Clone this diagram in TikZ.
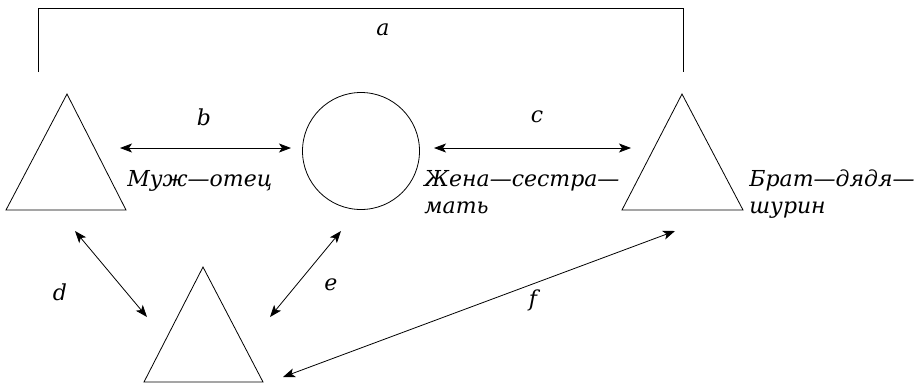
\documentclass[tikz,border=0pt]{standalone}
\usepackage{fontspec}
\setmainfont{DejaVu Serif}
\usetikzlibrary{arrows.meta}
\begin{document}
\begin{tikzpicture}[x=1pt,y=-1pt,line width=0.8pt,
  lab/.style={font=\fontsize{22}{27}\selectfont\itshape, inner sep=0pt},
  rel/.style={{Stealth[length=12pt,width=9pt,inset=3pt]}-{Stealth[length=12pt,width=9pt,inset=3pt]}, line width=0.8pt},
  shp/.style={draw, line width=0.8pt}]
\useasboundingbox (0,0) rectangle (916,386);
% bracket
\coordinate (aL) at (38,72);
\coordinate (aR) at (683,72);
\draw[shp] (aL) -- (38,8) -- (683,8) -- (aR);
\node[lab] (la) at (383,30) {a};
% triangles
\coordinate (t1a) at (67,94); \coordinate (t1l) at (6,210); \coordinate (t1r) at (126,210);
\draw[shp] (t1a) -- (t1r) -- (t1l) -- cycle;
\coordinate (t2a) at (682,94); \coordinate (t2l) at (622,210); \coordinate (t2r) at (743,210);
\draw[shp] (t2a) -- (t2r) -- (t2l) -- cycle;
\coordinate (t3a) at (203,267); \coordinate (t3l) at (144,382); \coordinate (t3r) at (263,382);
\draw[shp] (t3a) -- (t3r) -- (t3l) -- cycle;
% circle
\node[shp, circle, minimum size=117pt, inner sep=0pt] (circ) at (361,151) {};
% arrows
\coordinate (b1) at (120,148); \coordinate (b2) at (291,148);
\draw[rel] (b1) -- (b2);
\node[lab] (lb) at (204,117) {b};
\coordinate (c1) at (434,148); \coordinate (c2) at (631,148);
\draw[rel] (c1) -- (c2);
\node[lab] (lc) at (537,117) {c};
\coordinate (d1) at (75,231); \coordinate (d2) at (147,317);
\draw[rel] (d1) -- (d2);
\node[lab] (ld) at (60,292) {d};
\coordinate (e1) at (341,231); \coordinate (e2) at (270,317);
\draw[rel] (e1) -- (e2);
\node[lab] (le) at (331,285) {e};
\coordinate (f1) at (675,231); \coordinate (f2) at (283,377);
\draw[rel] (f1) -- (f2);
\node[lab] (lf) at (533,300) {f};
% texts
\node[lab, anchor=base west] (t1) at (127,186) {Муж—отец};
\node[lab, anchor=base west] (t2a) at (424,186) {Жена—сестра—};
\node[lab, anchor=base west] (t2b) at (424,213) {мать};
\node[lab, anchor=base west] (t3a) at (749,186) {Брат—дядя—};
\node[lab, anchor=base west] (t3b) at (749,213) {шурин};
\end{tikzpicture}
\end{document}
